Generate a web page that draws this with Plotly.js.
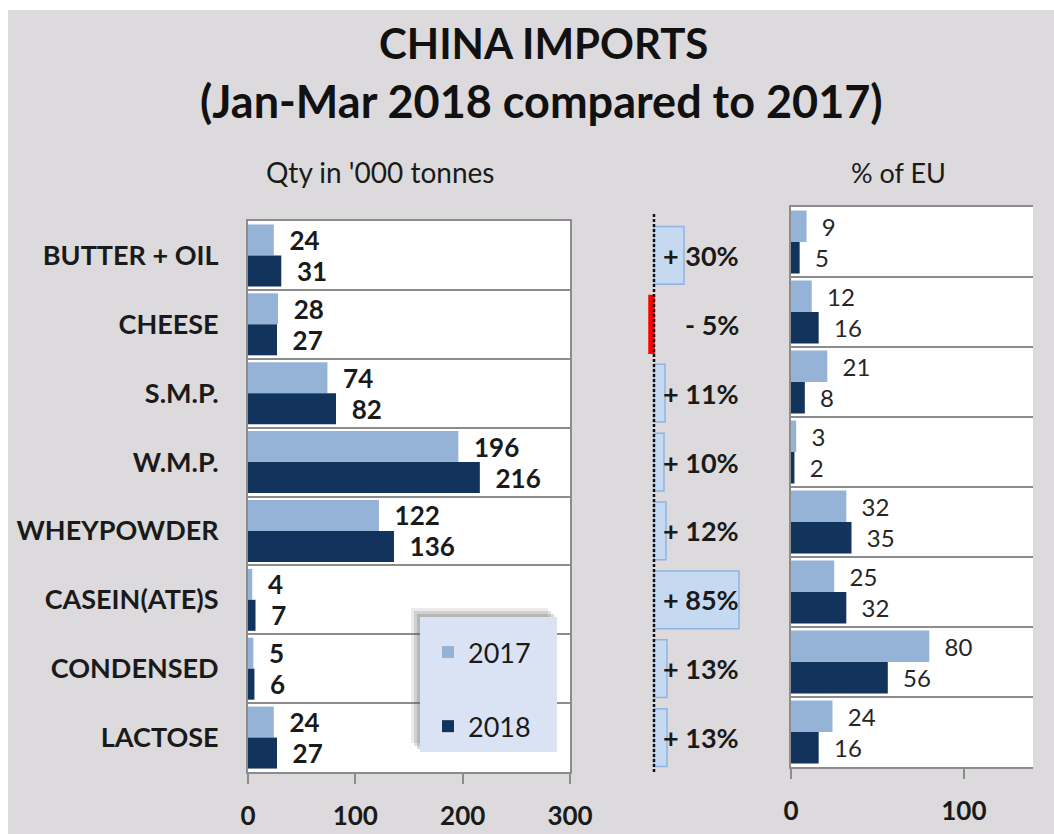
<!DOCTYPE html>
<html>
<head>
<meta charset="utf-8">
<script src="https://cdn.plot.ly/plotly-3.0.1.min.js"></script>
<style>html,body{margin:0;padding:0;background:#fff;}#chart{width:1054px;height:834px;}</style>
</head>
<body>
<div id="chart"></div>
<script>
// ---- data ----
const categories = ["BUTTER + OIL", "CHEESE", "S.M.P.", "W.M.P.", "WHEYPOWDER", "CASEIN(ATE)S", "CONDENSED", "LACTOSE"];
const qty2017 = [24, 28, 74, 196, 122, 4, 5, 24];
const qty2018 = [31, 27, 82, 216, 136, 7, 6, 27];
const changePct = [30, -5, 11, 10, 12, 85, 13, 13];
const euShare2017 = [9, 12, 21, 3, 32, 25, 80, 24];
const euShare2018 = [5, 16, 8, 2, 35, 32, 56, 16];
const qtyTicks = [0, 100, 200, 300];
const euTicks = [0, 100];
const titleLines = ["CHINA IMPORTS", "(Jan-Mar 2018 compared to 2017)"];

// ---- style ----
const W = 1054, H = 834;
const px = v => v / W;
const py = v => 1 - v / H;
const FONT = "Lato, 'Open Sans', sans-serif";
const C17 = "#95b3d7", C18 = "#12335b";
const GRID = "#8c8c8c";
const NB = "\u00a0\u00a0";

const traces = [
  {type: "bar", orientation: "h", name: "2017" + "\u00a0\u00a0", y: categories, x: qty2017,
   xaxis: "x", yaxis: "y", marker: {color: C17}, legendgroup: "a",
   texttemplate: NB + "%{x}", textposition: "outside", constraintext: "none", cliponaxis: false,
   textfont: {family: FONT, size: 26, color: "#1a1a1a", weight: 700}, hoverinfo: "skip"},
  {type: "bar", orientation: "h", name: "2018" + "\u00a0\u00a0", y: categories, x: qty2018,
   xaxis: "x", yaxis: "y", marker: {color: C18}, legendgroup: "b",
   texttemplate: NB + "%{x}", textposition: "outside", constraintext: "none", cliponaxis: false,
   textfont: {family: FONT, size: 26, color: "#1a1a1a", weight: 700}, hoverinfo: "skip"},
  {type: "bar", orientation: "h", y: categories, x: changePct, xaxis: "x2", yaxis: "y2",
   width: 0.84, showlegend: false,
   marker: {color: changePct.map(v => v < 0 ? "#ff0000" : "#c5d9f1"),
            line: {color: changePct.map(v => v < 0 ? "#ff0000" : "#8db4e2"), width: 1.5}},
   hoverinfo: "skip"},
  {type: "bar", orientation: "h", y: categories, x: euShare2017, xaxis: "x3", yaxis: "y3",
   marker: {color: C17}, showlegend: false,
   texttemplate: NB + "%{x}", textposition: "outside", constraintext: "none", cliponaxis: false,
   textfont: {family: FONT, size: 24, color: "#262626"}, hoverinfo: "skip"},
  {type: "bar", orientation: "h", y: categories, x: euShare2018, xaxis: "x3", yaxis: "y3",
   marker: {color: C18}, showlegend: false,
   texttemplate: NB + "%{x}", textposition: "outside", constraintext: "none", cliponaxis: false,
   textfont: {family: FONT, size: 24, color: "#262626"}, hoverinfo: "skip"}
];

const changeAnnotations = categories.map((c, i) => ({
  xref: "paper", yref: "y2", x: px(741), y: c, xanchor: "right", yanchor: "middle",
  text: (changePct[i] < 0 ? "- " : "+ ") + Math.abs(changePct[i]) + "%", showarrow: false,
  font: {family: FONT, size: 27, color: "#1a1a1a", weight: 700}
}));

const catAxis = {
  type: "category", categoryorder: "array", categoryarray: categories, autorange: "reversed",
  fixedrange: true
};

const layout = {
  width: W, height: H,
  margin: {l: 0, r: 0, t: 0, b: 0},
  paper_bgcolor: "#ffffff", plot_bgcolor: "rgba(0,0,0,0)",
  font: {family: FONT, color: "#1a1a1a"},
  barmode: "group", bargap: 0.1, bargroupgap: 0,
  showlegend: true,
  legend: {x: px(428), y: py(628), xanchor: "left", yanchor: "top",
           bgcolor: "rgba(0,0,0,0)", borderwidth: 0,
           traceorder: "grouped", tracegroupgap: 36, itemwidth: 30,
           font: {family: FONT, size: 27, color: "#1a1a1a"}},
  xaxis: {domain: [px(248), px(570)], range: [0, 300], tickvals: qtyTicks, anchor: "y",
          showgrid: false, zeroline: false, showline: true, mirror: true, linecolor: GRID, linewidth: 2,
          ticks: "outside", ticklen: 10, tickwidth: 2, tickcolor: GRID, ticklabelstandoff: 10,
          tickfont: {family: FONT, size: 26, color: "#1a1a1a", weight: 700}, fixedrange: true},
  yaxis: Object.assign({}, catAxis, {domain: [py(772), py(221)], anchor: "x",
          showgrid: true, gridcolor: GRID, gridwidth: 2, tickson: "boundaries", ticks: "",
          showline: true, mirror: true, linecolor: GRID, linewidth: 2,
          ticklabelstandoff: 22,
          tickfont: {family: FONT, size: 27, color: "#1a1a1a", weight: 700}}),
  xaxis2: {domain: [px(640), px(760)], range: [-14, 106], anchor: "y2",
           showgrid: false, zeroline: false, showline: false, showticklabels: false, ticks: "", fixedrange: true},
  yaxis2: Object.assign({}, catAxis, {domain: [py(772), py(221)], anchor: "x2",
           showgrid: false, showline: false, showticklabels: false, ticks: ""}),
  xaxis3: {domain: [px(791), px(1033)], range: [0, 140], tickvals: euTicks, anchor: "y3",
           showgrid: false, zeroline: false, showline: true, mirror: true, linecolor: GRID, linewidth: 2,
           ticks: "outside", ticklen: 10, tickwidth: 2, tickcolor: GRID, ticklabelstandoff: 10,
           tickfont: {family: FONT, size: 26, color: "#1a1a1a", weight: 700}, fixedrange: true},
  yaxis3: Object.assign({}, catAxis, {domain: [py(767), py(207)], anchor: "x3",
           showgrid: true, gridcolor: GRID, gridwidth: 2, tickson: "boundaries", ticks: "",
           showline: true, mirror: false, linecolor: GRID, linewidth: 2, showticklabels: false}),
  shapes: [
    {type: "rect", xref: "paper", yref: "paper", x0: px(8), x1: 1, y0: 0, y1: py(10),
     fillcolor: "#dcdadc", line: {width: 0}, layer: "below"},
    {type: "rect", xref: "x domain", yref: "y domain", x0: 0, x1: 1, y0: 0, y1: 1,
     fillcolor: "#ffffff", line: {width: 0}, layer: "below"},
    {type: "rect", xref: "x3 domain", yref: "y3 domain", x0: 0, x1: 1, y0: 0, y1: 1,
     fillcolor: "#ffffff", line: {width: 0}, layer: "below"},
    {type: "line", xref: "x2", yref: "paper", x0: 0, x1: 0, y0: py(772), y1: py(214),
     line: {color: "#111", width: 2.5, dash: "3px,2px"}, layer: "above"},
    {type: "rect", xref: "paper", yref: "paper", x0: px(411), x1: px(548), y0: py(743), y1: py(608),
     fillcolor: "rgba(90,90,90,0.12)", line: {width: 0}, layer: "above"},
    {type: "rect", xref: "paper", yref: "paper", x0: px(414), x1: px(551), y0: py(746), y1: py(611),
     fillcolor: "rgba(90,90,90,0.18)", line: {width: 0}, layer: "above"},
    {type: "rect", xref: "paper", yref: "paper", x0: px(417), x1: px(554), y0: py(749), y1: py(614),
     fillcolor: "rgba(90,90,90,0.22)", line: {width: 0}, layer: "above"},
    {type: "rect", xref: "paper", yref: "paper", x0: px(420), x1: px(557), y0: py(752), y1: py(617),
     fillcolor: "#dae3f3", line: {width: 0}, layer: "above"}
  ],
  annotations: [
    {xref: "paper", yref: "paper", x: px(543), y: py(43), xanchor: "center", yanchor: "middle",
     text: titleLines[0], showarrow: false, font: {family: FONT, size: 42, color: "#111", weight: 700}},
    {xref: "paper", yref: "paper", x: px(541), y: py(101), xanchor: "center", yanchor: "middle",
     text: titleLines[1], showarrow: false, font: {family: FONT, size: 45, color: "#111", weight: 700}},
    {xref: "paper", yref: "paper", x: px(380), y: py(172), xanchor: "center", yanchor: "middle",
     text: "Qty in '000 tonnes", showarrow: false, font: {family: FONT, size: 28, color: "#1a1a1a"}},
    {xref: "paper", yref: "paper", x: px(898), y: py(172), xanchor: "center", yanchor: "middle",
     text: "% of EU", showarrow: false, font: {family: FONT, size: 27, color: "#1a1a1a"}}
  ].concat(changeAnnotations)
};

Plotly.newPlot("chart", traces, layout, {staticPlot: true, displayModeBar: false});
</script>
</body>
</html>
